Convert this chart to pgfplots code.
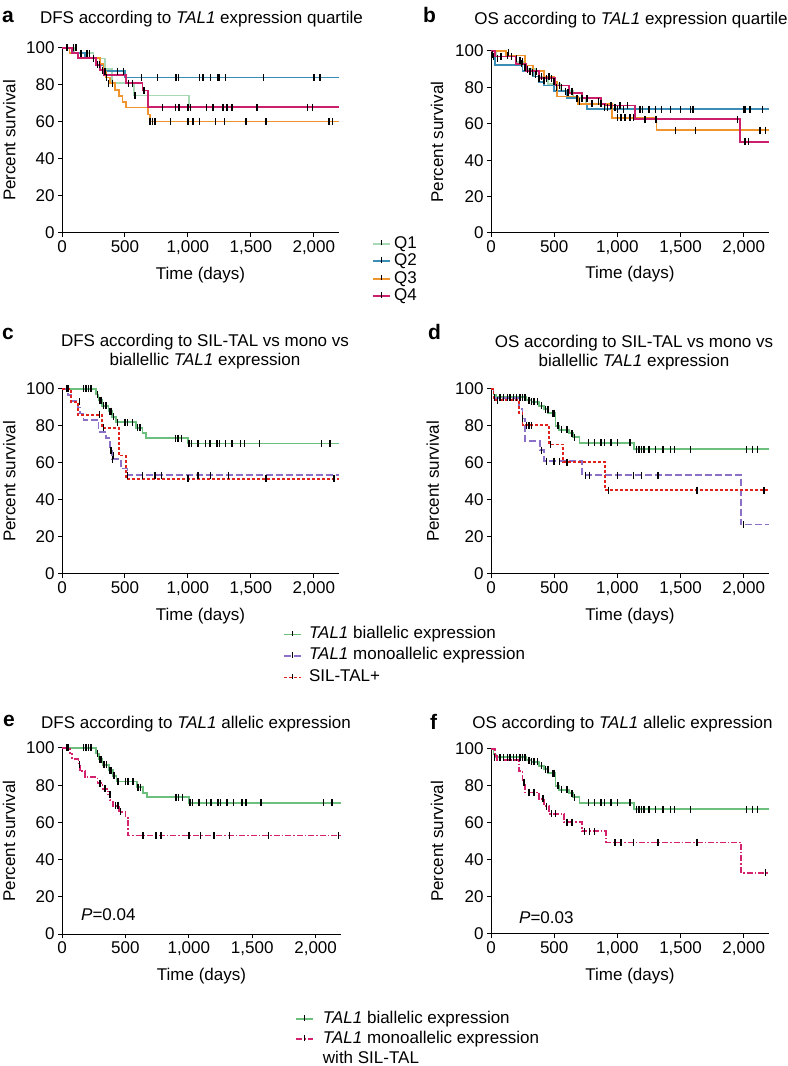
\documentclass[border=0pt]{standalone}
\usepackage{fontspec}
\setmainfont{Liberation Sans}
\usepackage{pgfplots}
\pgfplotsset{compat=1.18}

\definecolor{qone}{HTML}{A6D9B4}
\definecolor{qtwo}{HTML}{3C8DB5}
\definecolor{qthree}{HTML}{F0942E}
\definecolor{qfour}{HTML}{CC1F6B}
\definecolor{bigreen}{HTML}{6CBF7C}
\definecolor{monopurple}{HTML}{8C70C8}
\definecolor{silred}{HTML}{E0221E}
\definecolor{monomag}{HTML}{D4226F}

\newcommand{\fs}{\fontsize{17bp}{20bp}\selectfont}
\newcommand{\fl}{\fontsize{21bp}{24bp}\selectfont\bfseries}

\pgfplotsset{
  km/.style={
    scale only axis,
    axis lines=left,
    axis line style={-, line width=1bp, black},
    xmin=0, xmax=2200, ymin=0, ymax=100,
    enlargelimits=false,
    clip=false,
    xtick={0,500,1000,1500,2000},
    xticklabels={0,500,{1,000},{1,500},{2,000}},
    ytick={0,20,40,60,80,100},
    yticklabels={0,20,40,60,80,100},
    tick align=outside,
    major tick length=4bp,
    tick style={black, line width=1bp},
    ticklabel style={font=\fs},
    xlabel={Time (days)},
    ylabel={Percent survival},
    every axis x label/.style={at={(axis description cs:0.5,-0.225)}, anchor=center, font=\fs},
    every axis y label/.style={at={(axis description cs:-0.19,0.5)}, anchor=center, rotate=90, font=\fs},
    legend image code/.code={
      \draw[##1, line width=1.8bp] (0bp,0bp) -- (17bp,0bp);
      \draw[black, solid, line width=1.2bp] (8.5bp,-1.5bp) -- (8.5bp,4bp);
    },
    legend cell align=left,
  },
  curve/.style={const plot, line width=1.8bp, mark=none, forget plot},
  cens/.style={only marks, mark=|, mark size=3.5bp, mark options={black, solid, line width=1.4bp}, forget plot},
  monost/.style={dash pattern=on 7bp off 3bp},
  silst/.style={dash pattern=on 3bp off 2bp},
  magst/.style={dash pattern=on 6bp off 2bp on 1.5bp off 2bp},
}

\begin{document}
\begin{tikzpicture}
\useasboundingbox (0,0) rectangle (788bp,1066bp);

% ---------------- panel a
\begin{axis}[km, at={(62bp,833bp)}, anchor=south west, width=277bp, height=185bp,
  legend style={draw=none, fill=none, at={(1.118,-0.01)}, anchor=north west, inner sep=0pt,
    row sep=0bp, column sep=3bp, font=\fs, nodes={inner sep=0.5bp, text height=12.5bp, text depth=4bp}}]
\addlegendimage{qone}\addlegendentry{Q1}
\addlegendimage{qtwo}\addlegendentry{Q2}
\addlegendimage{qthree}\addlegendentry{Q3}
\addlegendimage{qfour}\addlegendentry{Q4}
\addplot[curve, qone] coordinates {(0,100)(100,97.1)(250,94.3)(340,88.6)(400,81)(570,74.3)(1010,68)(2200,68)};
\addplot[curve, qtwo] coordinates {(0,100)(90,97.1)(180,94.4)(300,90.9)(330,87.5)(500,84)(2200,84)};
\addplot[curve, qthree] coordinates {(0,100)(60,97.2)(130,94.4)(300,91.5)(330,87)(350,84)(380,81)(420,77.5)(450,74)(480,71)(510,67.8)(680,64)(700,60.3)(2200,60.3)};
\addplot[curve, qfour] coordinates {(0,100)(80,97.2)(130,94.5)(270,91)(300,88)(330,85.5)(510,81)(640,77)(680,68)(2200,68)};
\addplot[cens] coordinates {(40,100)(90,100)(110,100)(150,97.2)(200,97.1)(220,97.1)(250,94.4)(280,91)(300,90.9)(320,88)(340,87.5)(355,84)(370,81)(400,81)(440,87.5)(490,87.5)(530,81)(560,81)(580,74.3)(630,84)(650,77)(700,60.3)(720,60.3)(740,60.3)(760,84)(800,68)(860,60.3)(900,84)(910,84)(925,84)(900,68)(930,68)(1000,60.3)(1000,68)(1020,68)(1040,60.3)(1090,60.3)(1090,84)(1120,84)(1150,68)(1180,84)(1200,68)(1220,60.3)(1240,84)(1250,84)(1280,68)(1290,60.3)(1300,84)(1310,68)(1350,68)(1460,60.3)(1550,68)(1600,84)(1620,60.3)(1950,68)(1990,68)(2000,84)(2050,84)(2120,60.3)(2150,60.3)};
\end{axis}

% ---------------- panel b
\begin{axis}[km, at={(491bp,833bp)}, anchor=south west, width=278bp, height=182bp,
  every axis y label/.style={at={(axis description cs:-0.194,0.5)}, anchor=center, rotate=90, font=\fs}]
\addplot[curve, qone] coordinates {(0,100)(40,97)(200,94)(270,90)(350,86)(450,82)(550,78)(650,74)(750,71)(900,68)(2200,68)};
\addplot[curve, qtwo] coordinates {(0,100)(30,92.5)(250,89)(330,86)(380,83)(420,81)(500,78)(600,74)(700,71)(760,68)(2200,68)};
\addplot[curve, qthree] coordinates {(0,100)(120,97.5)(270,92)(330,89)(420,86)(500,83)(520,75)(690,71)(960,63.3)(1310,56.5)(2200,56.5)};
\addplot[curve, qfour] coordinates {(0,100)(30,97)(200,93)(280,89)(380,85)(510,81)(620,77)(720,74)(870,71)(900,70)(1140,62.5)(1970,50)(2200,50)};
\addplot[cens] coordinates {(10,98)(20,97)(50,96)(80,97)(130,97.5)(140,99)(160,97)(200,96)(230,95)(240,93)(250,94)(270,91)(290,90)(310,89)(330,88)(350,87)(360,89)(380,85)(400,86)(420,84)(440,85)(460,86)(480,85)(500,83)(520,80)(540,81)(560,80)(590,78)(610,77)(640,78)(680,74)(700,72)(720,74)(760,74)(800,71)(850,72)(870,71)(900,69)(920,69)(950,70)(980,69)(1000,68)(1020,70)(1050,68)(1080,70)(1000,63.3)(1030,63.3)(1060,63.3)(1100,63.3)(1130,63.3)(1180,68)(1200,68)(1250,68)(1300,68)(1350,68)(1420,68)(1500,68)(1580,68)(1600,68)(1220,62.5)(1300,62.5)(1310,62.5)(1460,56.5)(1620,56.5)(1950,62.5)(2000,68)(2010,68)(2050,68)(2010,50)(2040,50)(2130,56.5)(2170,56.5)(2150,68)};
\end{axis}

% ---------------- panel c
\begin{axis}[km, at={(62bp,492bp)}, anchor=south west, width=277bp, height=185bp,
  legend style={draw=none, fill=none, at={(0.798,-0.268)}, anchor=north west, inner sep=0pt,
    row sep=0bp, column sep=6bp, font=\fs, nodes={inner sep=1bp, text height=13.5bp, text depth=6bp}}]
\addlegendimage{bigreen}\addlegendentry{\textit{TAL1} biallelic expression}
\addlegendimage{monopurple, monost}\addlegendentry{\textit{TAL1} monoallelic expression}
\addlegendimage{silred, silst}\addlegendentry{SIL-TAL+}
\addplot[curve, bigreen] coordinates {(0,100)(270,97)(290,94)(320,91)(370,88)(400,85)(430,82)(590,79)(640,76)(670,73.5)(1000,70.5)(2200,70.5)};
\addplot[curve, monopurple, monost] coordinates {(0,100)(50,96.7)(70,93.3)(130,90)(140,86.7)(170,83.3)(290,76.7)(350,73.3)(380,66.7)(400,62)(470,57)(520,53.5)(2200,53.5)};
\addplot[curve, silred, silst] coordinates {(0,100)(70,93)(130,86)(320,79)(450,64)(510,51.4)(2200,51.4)};
\addplot[cens] coordinates {(40,100)(170,100)(190,100)(210,100)(230,100)(280,97)(300,94)(310,94)(330,91)(350,91)(380,88)(390,88)(410,85)(440,82)(500,82)(520,82)(560,82)(600,79)(620,79)(900,73.5)(920,73.5)(950,73.5)(1010,70.5)(1030,70.5)(1080,70.5)(1140,70.5)(1170,70.5)(1180,70.5)(1230,70.5)(1250,70.5)(1300,70.5)(1350,70.5)(1420,70.5)(1450,70.5)(1570,70.5)(2060,70.5)(2130,70.5)};
\addplot[cens] coordinates {(50,100)(140,93)(300,86)(330,79)(390,66.7)(400,62)(410,64)(520,53.5)(640,53.5)(740,53.5)(790,53.5)(1000,51.4)(1080,53.5)(1180,53.5)(1320,53.5)(1620,51.4)(2160,51.4)};
\end{axis}

% ---------------- panel d
\begin{axis}[km, at={(491bp,492bp)}, anchor=south west, width=278bp, height=185bp,
  every axis y label/.style={at={(axis description cs:-0.209,0.5)}, anchor=center, rotate=90, font=\fs}]
\addplot[curve, bigreen] coordinates {(0,100)(20,97)(40,95.5)(280,94)(320,93)(380,91)(420,89)(450,87)(510,80)(540,78)(620,76)(650,74)(700,71)(1130,67.5)(2200,67.5)};
\addplot[curve, monopurple, monost] coordinates {(0,100)(20,95)(220,89)(250,84)(270,72)(390,67)(420,61)(720,53.5)(1980,26.7)(2200,26.7)};
\addplot[curve, silred, silst] coordinates {(0,100)(20,94)(220,87)(250,80.5)(460,70)(570,60.5)(900,45.3)(2200,45.3)};
\addplot[cens] coordinates {(30,95.5)(70,95.5)(100,95.5)(130,95.5)(150,95.5)(180,95.5)(200,95.5)(230,95.5)(250,95.5)(270,95.5)(300,94)(320,93)(340,93)(370,93)(400,91)(430,89)(450,89)(490,87)(500,87)(530,80)(560,78)(600,78)(640,76)(660,74)(770,71)(820,71)(870,71)(900,71)(950,71)(1000,71)(1100,71)(1150,67.5)(1170,67.5)(1190,67.5)(1210,67.5)(1250,67.5)(1300,67.5)(1360,67.5)(1420,67.5)(1450,67.5)(1580,67.5)(2020,67.5)(2070,67.5)(2110,67.5)};
\addplot[cens] coordinates {(50,94)(250,84)(280,80.5)(300,80.5)(320,80.5)(400,67)(440,61)(470,70)(500,61)(540,61)(600,60.5)(750,53.5)(780,53.5)(930,45.3)(1000,53.5)(1130,53.5)(1190,53.5)(1320,53.5)(1630,45.3)(2000,26.7)(2160,45.3)};
\end{axis}

% ---------------- panel e
\begin{axis}[km, at={(62bp,132bp)}, anchor=south west, width=279bp, height=186bp,
  legend style={draw=none, fill=none, at={(0.835,-0.403)}, anchor=north west, inner sep=0pt,
    row sep=0bp, column sep=8bp, font=\fs, nodes={inner sep=1bp, text height=13bp, text depth=5bp}}]
\addlegendimage{bigreen}\addlegendentry{\textit{TAL1} biallelic expression}
\addlegendimage{monomag, magst}\addlegendentry{\textit{TAL1} monoallelic expression}
\addlegendimage{empty legend}\addlegendentry{with SIL-TAL}
\addplot[curve, bigreen] coordinates {(0,100)(270,97)(290,94)(320,91)(370,88)(400,85)(430,82)(590,79)(640,76)(670,73.5)(1000,70.5)(2200,70.5)};
\addplot[curve, monomag, magst] coordinates {(0,100)(60,97)(80,94)(130,91)(140,87.5)(180,84.4)(280,81)(320,78)(360,75)(380,72)(400,69)(450,65.6)(500,62.5)(520,53)(2200,53)};
\addplot[cens] coordinates {(40,100)(170,100)(190,100)(210,100)(230,100)(280,97)(300,94)(310,94)(330,91)(350,91)(380,88)(390,88)(410,85)(440,82)(500,82)(520,82)(560,82)(600,79)(620,79)(900,73.5)(920,73.5)(950,73.5)(1010,70.5)(1030,70.5)(1080,70.5)(1140,70.5)(1170,70.5)(1180,70.5)(1230,70.5)(1250,70.5)(1300,70.5)(1350,70.5)(1420,70.5)(1450,70.5)(1570,70.5)(2060,70.5)(2130,70.5)};
\addplot[cens] coordinates {(50,100)(140,91)(300,81)(340,78)(380,75)(420,69)(440,69)(460,65.6)(640,53)(740,53)(780,53)(1000,53)(1090,53)(1200,53)(1320,53)(1630,53)(2180,53)};
\end{axis}

% ---------------- panel f
\begin{axis}[km, at={(491bp,132bp)}, anchor=south west, width=278bp, height=185bp,
  every axis y label/.style={at={(axis description cs:-0.194,0.5)}, anchor=center, rotate=90, font=\fs}]
\addplot[curve, bigreen] coordinates {(0,100)(20,97)(40,95.5)(280,94)(320,93)(380,91)(420,89)(450,87)(510,80)(540,78)(620,76)(650,74)(700,71)(1130,67.5)(2200,67.5)};
\addplot[curve, monomag, magst] coordinates {(0,100)(30,96)(50,94)(220,88)(250,82)(270,76.5)(380,73)(420,69)(460,65)(580,60.5)(720,55.5)(910,49.5)(1980,33)(2200,33)};
\addplot[cens] coordinates {(30,95.5)(70,95.5)(100,95.5)(130,95.5)(150,95.5)(180,95.5)(200,95.5)(230,95.5)(250,95.5)(270,95.5)(300,94)(320,93)(340,93)(370,93)(400,91)(430,89)(450,89)(490,87)(500,87)(530,80)(560,78)(600,78)(640,76)(660,74)(770,71)(820,71)(870,71)(900,71)(950,71)(1000,71)(1100,71)(1150,67.5)(1170,67.5)(1190,67.5)(1210,67.5)(1250,67.5)(1300,67.5)(1360,67.5)(1420,67.5)(1450,67.5)(1580,67.5)(2020,67.5)(2070,67.5)(2110,67.5)};
\addplot[cens] coordinates {(260,82)(300,76.5)(340,76.5)(410,73)(440,69)(480,65)(510,65)(600,60.5)(640,60.5)(740,55.5)(780,55.5)(820,55.5)(980,49.5)(1030,49.5)(1130,49.5)(1320,49.5)(1630,49.5)(2170,33)};
\end{axis}

% ---------------- titles and panel letters
\node[anchor=base west, inner sep=0pt, font=\fl] at (2bp,1043bp) {a};
\node[anchor=base, inner sep=0pt, font=\fs] at (201.5bp,1042bp) {DFS according to \textit{TAL1} expression quartile};
\node[anchor=base west, inner sep=0pt, font=\fl] at (423bp,1043bp) {b};
\node[anchor=base, inner sep=0pt, font=\fs] at (631bp,1041bp) {OS according to \textit{TAL1} expression quartile};

\node[anchor=base west, inner sep=0pt, font=\fl] at (2bp,726bp) {c};
\node[anchor=base, inner sep=0pt, font=\fs] at (205bp,719bp) {DFS according to SIL-TAL vs mono vs};
\node[anchor=base, inner sep=0pt, font=\fs] at (205bp,700bp) {biallellic \textit{TAL1} expression};
\node[anchor=base west, inner sep=0pt, font=\fl] at (428bp,726bp) {d};
\node[anchor=base, inner sep=0pt, font=\fs] at (634bp,718bp) {OS according to SIL-TAL vs mono vs};
\node[anchor=base, inner sep=0pt, font=\fs] at (634bp,699bp) {biallellic \textit{TAL1} expression};

\node[anchor=base west, inner sep=0pt, font=\fl] at (3bp,339bp) {e};
\node[anchor=base, inner sep=0pt, font=\fs] at (196bp,337bp) {DFS according to \textit{TAL1} allelic expression};
\node[anchor=base west, inner sep=0pt, font=\fl] at (430bp,336bp) {f};
\node[anchor=base, inner sep=0pt, font=\fs] at (622.5bp,337bp) {OS according to \textit{TAL1} allelic expression};

\node[anchor=base west, inner sep=0pt, font=\fs] at (81bp,145bp) {\textit{P}=0.04};
\node[anchor=base west, inner sep=0pt, font=\fs] at (519bp,142bp) {\textit{P}=0.03};
\end{tikzpicture}
\end{document}
